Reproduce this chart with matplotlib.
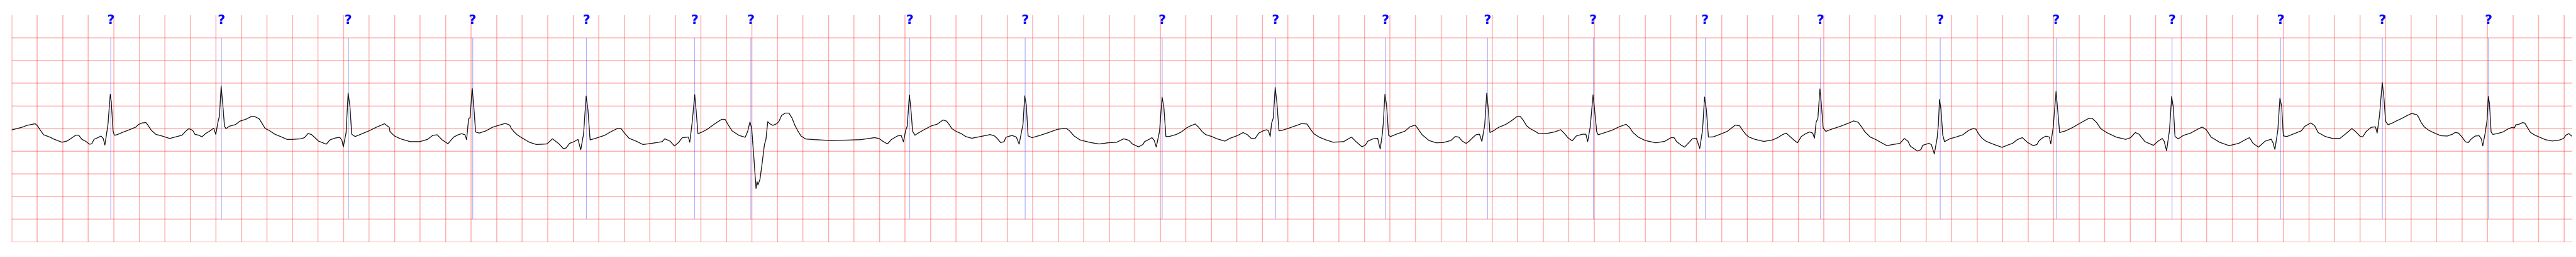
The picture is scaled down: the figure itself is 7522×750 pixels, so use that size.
import matplotlib.pyplot as plt
import numpy as np

# ECG trace: (time s, amplitude mV)
ecg_trace = [
    (0.000, -0.034), (0.089, 0.031), (0.119, 0.067), (0.185, 0.103), (0.203, 0.056),
    (0.226, -0.042), (0.250, -0.139), (0.304, -0.197), (0.328, -0.233), (0.394, -0.305),
    (0.436, -0.277), (0.502, -0.150), (0.526, -0.150), (0.550, -0.240), (0.580, -0.283),
    (0.610, -0.348), (0.628, -0.340), (0.646, -0.240), (0.676, -0.204), (0.700, -0.168),
    (0.718, -0.222), (0.731, -0.367), (0.755, 0.085), (0.773, 0.754), (0.781, 0.591),
    (0.795, -0.060), (0.805, -0.150), (0.826, -0.139), (0.868, -0.089), (0.927, -0.024),
    (0.975, 0.031), (0.993, 0.085), (1.023, 0.121), (1.053, 0.128), (1.065, 0.085),
    (1.095, -0.042), (1.131, -0.132), (1.179, -0.168), (1.239, -0.222), (1.287, -0.186),
    (1.335, -0.150), (1.365, -0.060), (1.389, -0.005), (1.419, -0.042), (1.437, -0.132),
    (1.467, -0.150), (1.491, -0.186), (1.520, -0.114), (1.551, -0.060), (1.584, 0.005),
    (1.600, -0.132), (1.617, 0.139), (1.629, 0.283), (1.642, 0.934), (1.656, 0.482),
    (1.668, 0.049), (1.680, -0.005), (1.707, 0.049), (1.755, 0.085), (1.789, 0.161),
    (1.833, 0.199), (1.878, 0.262), (1.905, 0.262), (1.940, 0.212), (1.960, 0.123),
    (1.987, -0.003), (2.015, -0.040), (2.063, -0.128), (2.117, -0.191), (2.158, -0.242),
    (2.199, -0.242), (2.268, -0.229), (2.295, -0.204), (2.323, -0.111), (2.350, -0.136),
    (2.377, -0.204), (2.405, -0.280), (2.466, -0.348), (2.494, -0.254), (2.535, -0.212),
    (2.572, -0.196), (2.589, -0.267), (2.599, -0.406), (2.621, -0.091), (2.637, 0.778),
    (2.651, 0.489), (2.665, -0.128), (2.692, -0.179), (2.747, -0.116), (2.801, -0.053),
    (2.856, 0.023), (2.922, 0.103), (2.959, 0.023), (2.965, -0.071), (3.000, -0.166),
    (3.047, -0.229), (3.123, -0.292), (3.198, -0.292), (3.259, -0.242), (3.300, -0.154),
    (3.335, -0.141), (3.374, -0.254), (3.419, -0.338), (3.464, -0.191), (3.499, -0.141),
    (3.526, -0.116), (3.553, -0.141), (3.565, -0.249), (3.581, 0.212), (3.592, 0.237),
    (3.609, 0.879), (3.622, 0.463), (3.636, -0.078), (3.664, -0.103), (3.718, -0.053),
    (3.766, 0.023), (3.807, 0.060), (3.869, 0.111), (3.903, 0.073), (3.916, -0.003),
    (3.934, -0.065), (3.962, -0.141), (3.996, -0.204), (4.057, -0.305), (4.112, -0.355),
    (4.194, -0.343), (4.238, -0.229), (4.256, -0.267), (4.290, -0.343), (4.324, -0.448),
    (4.345, -0.431), (4.372, -0.330), (4.407, -0.292), (4.438, -0.242), (4.460, -0.474),
    (4.482, -0.116), (4.502, 0.715), (4.516, 0.413), (4.533, -0.254), (4.578, -0.217),
    (4.646, -0.154), (4.701, -0.065), (4.752, 0.005), (4.776, -0.003), (4.799, -0.091),
    (4.838, -0.217), (4.893, -0.280), (4.947, -0.355), (5.016, -0.330), (5.098, -0.292),
    (5.118, -0.229), (5.159, -0.280), (5.194, -0.388), (5.228, -0.305), (5.255, -0.204),
    (5.303, -0.191), (5.314, -0.305), (5.333, 0.136), (5.353, 0.746), (5.364, 0.388),
    (5.378, -0.116), (5.412, -0.078), (5.453, -0.015), (5.508, 0.098), (5.563, 0.199),
    (5.591, 0.199), (5.611, 0.098), (5.645, -0.053), (5.700, -0.154), (5.748, -0.196),
    (5.768, -0.065), (5.785, 0.141), (5.799, 0.010), (5.817, -0.670), (5.833, -1.325),
    (5.841, -1.174), (5.848, -1.249), (5.864, -1.123), (5.878, -0.834), (5.899, -0.360),
    (5.911, -0.240), (5.925, 0.150), (5.941, 0.103), (5.965, 0.067), (5.995, 0.103),
    (6.013, 0.157), (6.033, 0.284), (6.061, 0.338), (6.091, 0.338), (6.115, 0.230),
    (6.138, 0.067), (6.162, -0.060), (6.186, -0.168), (6.222, -0.233), (6.294, -0.248),
    (6.414, -0.266), (6.533, -0.259), (6.653, -0.248), (6.761, -0.204), (6.797, -0.222),
    (6.827, -0.284), (6.863, -0.342), (6.893, -0.248), (6.940, -0.168), (6.970, -0.150),
    (6.988, -0.295), (7.006, -0.042), (7.018, 0.050), (7.035, 0.736), (7.046, 0.446),
    (7.060, -0.060), (7.078, -0.150), (7.108, -0.096), (7.153, -0.024), (7.210, 0.060),
    (7.251, 0.091), (7.299, 0.186), (7.326, 0.161), (7.347, 0.086), (7.367, -0.003),
    (7.401, -0.065), (7.442, -0.116), (7.476, -0.179), (7.524, -0.217), (7.593, -0.179),
    (7.668, -0.136), (7.702, -0.166), (7.723, -0.222), (7.750, -0.312), (7.777, -0.292),
    (7.791, -0.196), (7.839, -0.154), (7.873, -0.191), (7.895, -0.348), (7.914, -0.065),
    (7.925, 0.086), (7.939, 0.720), (7.951, 0.514), (7.965, -0.166), (7.996, -0.204),
    (8.058, -0.154), (8.126, -0.091), (8.195, -0.020), (8.263, 0.005), (8.290, -0.053),
    (8.325, -0.166), (8.372, -0.254), (8.454, -0.312), (8.523, -0.343), (8.591, -0.317),
    (8.659, -0.305), (8.714, -0.229), (8.755, -0.262), (8.782, -0.343), (8.830, -0.406),
    (8.865, -0.355), (8.878, -0.292), (8.913, -0.242), (8.936, -0.204), (8.954, -0.267),
    (8.969, -0.413), (8.995, -0.065), (9.015, 0.690), (9.029, 0.463), (9.045, -0.179),
    (9.070, -0.179), (9.124, -0.136), (9.166, -0.078), (9.206, 0.010), (9.241, 0.060),
    (9.275, 0.098), (9.300, 0.030), (9.329, -0.071), (9.356, -0.136), (9.404, -0.179),
    (9.445, -0.229), (9.507, -0.280), (9.548, -0.217), (9.609, -0.154), (9.650, -0.091),
    (9.684, -0.141), (9.712, -0.217), (9.742, -0.229), (9.773, -0.103), (9.808, -0.053),
    (9.835, -0.028), (9.849, -0.053), (9.862, -0.179), (9.873, 0.111), (9.887, 0.237),
    (9.901, 0.904), (9.914, 0.589), (9.931, -0.053), (9.958, -0.040), (10.013, 0.010),
    (10.068, 0.065), (10.109, 0.106), (10.150, 0.098), (10.177, -0.015), (10.204, -0.116),
    (10.245, -0.191), (10.300, -0.254), (10.355, -0.305), (10.437, -0.292), (10.499, -0.191),
    (10.533, -0.287), (10.581, -0.406), (10.608, -0.368), (10.628, -0.280), (10.669, -0.229),
    (10.704, -0.217), (10.724, -0.456), (10.741, -0.116), (10.749, 0.136), (10.761, 0.753),
    (10.774, 0.514), (10.790, -0.154), (10.806, -0.179), (10.861, -0.116), (10.916, -0.065),
    (10.957, 0.035), (10.998, 0.073), (11.019, -0.003), (11.053, -0.141), (11.107, -0.267),
    (11.162, -0.317), (11.217, -0.312), (11.278, -0.267), (11.312, -0.179), (11.340, -0.191),
    (11.367, -0.280), (11.397, -0.330), (11.422, -0.280), (11.447, -0.210), (11.474, -0.141),
    (11.502, -0.128), (11.521, -0.287), (11.543, 0.073), (11.559, 0.778), (11.570, 0.463),
    (11.584, -0.091), (11.611, -0.053), (11.652, 0.023), (11.707, 0.086), (11.755, 0.174),
    (11.796, 0.262), (11.820, 0.267), (11.844, 0.186), (11.871, 0.060), (11.898, -0.003),
    (11.939, -0.065), (11.967, -0.116), (12.021, -0.116), (12.090, -0.078), (12.138, -0.028),
    (12.165, -0.103), (12.199, -0.217), (12.229, -0.272), (12.261, -0.166), (12.309, -0.128),
    (12.336, -0.128), (12.350, -0.292), (12.370, 0.035), (12.392, 0.741), (12.404, 0.413),
    (12.421, -0.078), (12.432, -0.141), (12.486, -0.091), (12.541, -0.040), (12.596, 0.035),
    (12.651, 0.091), (12.678, 0.023), (12.705, -0.091), (12.746, -0.191), (12.801, -0.267),
    (12.883, -0.317), (12.952, -0.287), (13.004, -0.204), (13.027, -0.204), (13.047, -0.292),
    (13.082, -0.368), (13.109, -0.413), (13.150, -0.292), (13.170, -0.229), (13.202, -0.217),
    (13.228, -0.443), (13.250, -0.040), (13.266, 0.695), (13.280, 0.413), (13.296, -0.191),
    (13.335, -0.186), (13.389, -0.128), (13.444, -0.065), (13.506, 0.073), (13.540, 0.060),
    (13.567, -0.053), (13.592, -0.141), (13.614, -0.191), (13.662, -0.242), (13.730, -0.287),
    (13.798, -0.254), (13.839, -0.204), (13.874, -0.141), (13.905, -0.103), (13.935, -0.179),
    (13.970, -0.267), (13.994, -0.317), (14.024, -0.179), (14.058, -0.116), (14.088, -0.078),
    (14.113, -0.103), (14.127, -0.217), (14.140, 0.136), (14.154, 0.224), (14.170, 0.872),
    (14.181, 0.539), (14.195, 0.010), (14.216, -0.065), (14.263, -0.015), (14.332, 0.048),
    (14.400, 0.123), (14.434, 0.166), (14.469, 0.136), (14.496, 0.035), (14.523, -0.078),
    (14.564, -0.191), (14.605, -0.242), (14.653, -0.317), (14.694, -0.380), (14.742, -0.355),
    (14.797, -0.330), (14.831, -0.222), (14.859, -0.280), (14.879, -0.393), (14.934, -0.499),
    (14.961, -0.469), (14.975, -0.373), (15.023, -0.330), (15.043, -0.355), (15.066, -0.564),
    (15.088, -0.217), (15.098, 0.086), (15.107, 0.640), (15.118, 0.438), (15.132, -0.141),
    (15.146, -0.292), (15.187, -0.229), (15.235, -0.191), (15.289, -0.141), (15.337, -0.040),
    (15.371, -0.003), (15.392, -0.015), (15.412, -0.116), (15.440, -0.217), (15.474, -0.287),
    (15.535, -0.355), (15.597, -0.418), (15.645, -0.363), (15.679, -0.330), (15.713, -0.254),
    (15.738, -0.220), (15.757, -0.204), (15.794, -0.305), (15.841, -0.380), (15.870, -0.355),
    (15.888, -0.267), (15.917, -0.204), (15.941, -0.171), (15.968, -0.191), (15.979, -0.343),
    (15.998, 0.035), (16.020, 0.816), (16.035, 0.338), (16.048, -0.091), (16.096, -0.053),
    (16.152, 0.023), (16.190, 0.086), (16.237, 0.161), (16.274, 0.217), (16.303, 0.224),
    (16.340, 0.123), (16.369, -0.003), (16.416, -0.091), (16.491, -0.191), (16.566, -0.242),
    (16.604, -0.204), (16.641, -0.091), (16.670, -0.128), (16.717, -0.292), (16.783, -0.373),
    (16.820, -0.280), (16.852, -0.222), (16.867, -0.280), (16.886, -0.494), (16.909, -0.040),
    (16.926, 0.703), (16.939, 0.463), (16.952, -0.179), (16.977, -0.229), (17.018, -0.154),
    (17.075, -0.103), (17.131, -0.015), (17.165, 0.030), (17.197, -0.028), (17.235, -0.191),
    (17.301, -0.305), (17.376, -0.380), (17.451, -0.330), (17.508, -0.242), (17.536, -0.204),
    (17.564, -0.330), (17.606, -0.413), (17.659, -0.280), (17.706, -0.237), (17.720, -0.317),
    (17.735, -0.463), (17.758, -0.040), (17.774, 0.660), (17.788, 0.489), (17.801, -0.166),
    (17.829, -0.179), (17.886, -0.116), (17.942, -0.053), (17.970, 0.048), (18.017, 0.123),
    (18.046, 0.060), (18.074, -0.091), (18.130, -0.179), (18.187, -0.222), (18.244, -0.222),
    (18.291, -0.116), (18.338, -0.003), (18.366, -0.065), (18.404, -0.179), (18.423, -0.186),
    (18.451, -0.065), (18.489, 0.023), (18.523, 0.035), (18.536, -0.103), (18.555, 0.287),
    (18.576, 1.013), (18.589, 0.690), (18.602, 0.161), (18.621, 0.081), (18.659, 0.123),
    (18.693, 0.174), (18.709, 0.193), (18.736, 0.230), (18.771, 0.284), (18.807, 0.331),
    (18.847, 0.302), (18.861, 0.248), (18.879, 0.139), (18.906, 0.031), (18.941, -0.042),
    (18.986, -0.103), (19.035, -0.161), (19.085, -0.168), (19.129, -0.125), (19.147, -0.089),
    (19.174, -0.103), (19.205, -0.204), (19.228, -0.295), (19.250, -0.313), (19.273, -0.233),
    (19.304, -0.168), (19.335, -0.161), (19.353, -0.233), (19.364, -0.385), (19.384, -0.078),
    (19.398, 0.193), (19.407, 0.707), (19.416, 0.555), (19.429, -0.078), (19.442, -0.132),
    (19.478, -0.114), (19.523, -0.078), (19.559, -0.016), (19.590, 0.020), (19.613, 0.013),
    (19.621, 0.078), (19.648, 0.092), (19.675, 0.128), (19.693, 0.118), (19.715, 0.013),
    (19.738, -0.089), (19.773, -0.150), (19.818, -0.204), (19.854, -0.248), (19.908, -0.277),
    (19.961, -0.259), (19.997, -0.222), (20.015, -0.150), (20.038, -0.114), (20.060, -0.168),
]

# annotated beats (s) and their labels
beat_times = [
    0.777, 1.643, 2.637, 3.611, 4.504, 5.352, 5.792, 7.036, 7.941, 9.015, 9.903,
    10.764, 11.563, 12.392, 13.269, 14.173, 15.112, 16.020, 16.928, 17.779, 18.575, 19.408,
]
beat_labels = ["?"] * len(beat_times)

t_end = 20.064

ecg_t = [p[0] for p in ecg_trace]
ecg_mv = [p[1] for p in ecg_trace]

W, H = 7522, 750
fig = plt.figure(figsize=(W / 100, H / 100), dpi=100)
ax = fig.add_axes([33.9 / W, 44.5 / H, (7510.7 - 33.9) / W, 661.5 / H])

ax.plot(ecg_t, ecg_mv, color="black", lw=1.5, zorder=3)
ax.vlines(beat_times, -2.0, 2.0, color="blue", lw=0.9, alpha=0.5, zorder=2)
for t, lab in zip(beat_times, beat_labels):
    ax.text(t, 2.3, lab, ha="center", va="baseline", color="blue",
            fontsize=27, fontweight="bold")

ax.set_xlim(0, t_end)
ax.set_ylim(-2.5, 2.5)
ax.set_xticks(np.arange(0, 20.001, 0.2))
ax.set_yticks(np.arange(-2.5, 2.001, 0.5))
ax.grid(True, color="red", alpha=0.3, lw=2)
ax.tick_params(length=0, labelbottom=False, labelleft=False)
for s in ax.spines.values():
    s.set_visible(False)

fig.savefig("out.png", dpi=100)
